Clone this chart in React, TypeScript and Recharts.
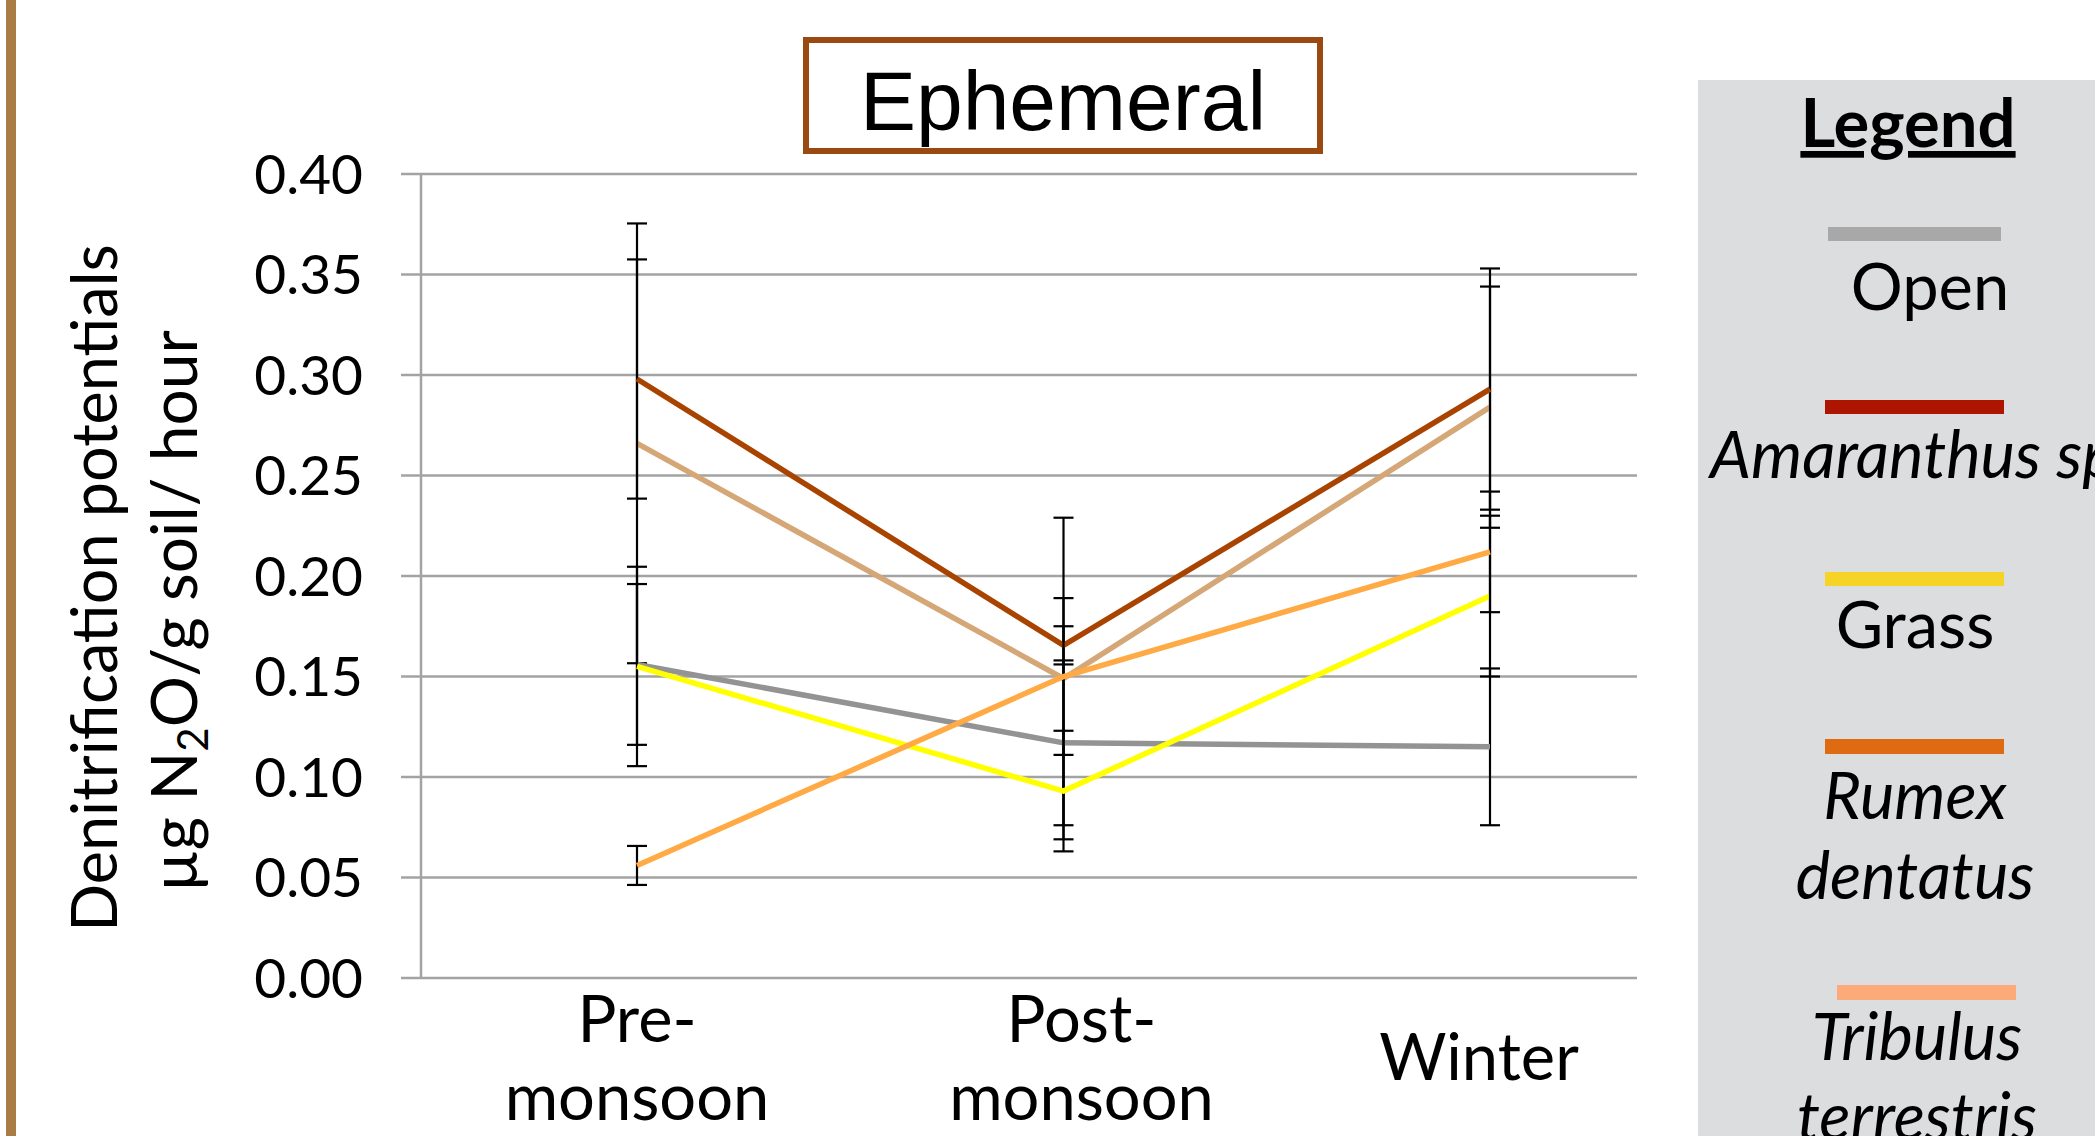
import React from 'react';
import { LineChart, Line, XAxis, YAxis, CartesianGrid, ErrorBar } from 'recharts';

const seasons = ['Pre-monsoon', 'Post-monsoon', 'Winter'];
const openVals = [0.156, 0.117, 0.115];
const openErr = [0.040, 0.041, 0.039];
const amaranthusVals = [0.298, 0.1655, 0.293];
const amaranthusErr = [0.0595, 0.0095, 0.060];
const grassVals = [0.155, 0.093, 0.190];
const grassErr = [0.0496, 0.030, 0.040];
const rumexVals = [0.056, 0.150, 0.212];
const rumexErr = [0.0097, 0.039, 0.030];
const tribulusVals = [0.266, 0.149, 0.284];
const tribulusErr = [0.1094, 0.080, 0.060];
const yTicks = [0, 0.05, 0.1, 0.15, 0.2, 0.25, 0.3, 0.35, 0.4];
const labelNudge: Record<string, number> = { 'Pre-monsoon': 0, 'Post-monsoon': 18, 'Winter': -11 };

const data = seasons.map((s, i) => ({
  season: s,
  open: openVals[i], openE: openErr[i],
  amaranthus: amaranthusVals[i], amaranthusE: amaranthusErr[i],
  grass: grassVals[i], grassE: grassErr[i],
  rumex: rumexVals[i], rumexE: rumexErr[i],
  tribulus: tribulusVals[i], tribulusE: tribulusErr[i],
}));

const series = [
  { key: 'tribulus', color: '#D5A777' },
  { key: 'amaranthus', color: '#A84400' },
  { key: 'open', color: '#939393' },
  { key: 'grass', color: '#FFFF00' },
  { key: 'rumex', color: '#FFAA44' },
];

const GILL = 'Lato, "Open Sans", sans-serif';

const XTick = (props: any) => {
  const { x, y, payload } = props;
  const v: string = payload.value;
  const cx = x + (labelNudge[v] || 0);
  const idx = v.indexOf('-');
  if (idx >= 0) {
    return (
      <g>
        <text x={cx} y={y + 64} textAnchor="middle" fontSize={65} fontFamily={GILL} fill="#000">{v.slice(0, idx + 1)}</text>
        <text x={cx} y={y + 142} textAnchor="middle" fontSize={65} fontFamily={GILL} fill="#000">{v.slice(idx + 1)}</text>
      </g>
    );
  }
  return (
    <text x={cx} y={y + 102} textAnchor="middle" fontSize={65} fontFamily={GILL} fill="#000">{v}</text>
  );
};

const legendItems = [
  { color: '#A8A8A8', bar: [1828, 227, 173, 14], lines: ['Open'], italic: false, cx: 1930, y: 310 },
  { color: '#AE1500', bar: [1825, 400, 179, 14], lines: ['Amaranthus sp.'], italic: true, cx: 1710, y: 478, anchorStart: true },
  { color: '#F5D327', bar: [1825, 572, 179, 14], lines: ['Grass'], italic: false, cx: 1915, y: 648 },
  { color: '#DE6A12', bar: [1825, 739, 179, 15], lines: ['Rumex', 'dentatus'], italic: true, cx: 1915, y: 819 },
  { color: '#FCAA7A', bar: [1837, 985, 179, 15], lines: ['Tribulus', 'terrestris'], italic: true, cx: 1917, y: 1060 },
];

export default function App() {
  return (
    <div style={{ position: 'absolute', left: 0, top: 0, width: 2095, height: 1136, background: '#fff', overflow: 'hidden' }}>
      <LineChart width={2095} height={1136} data={data} margin={{ top: 174, right: 458, bottom: 58, left: 301 }}>
        <CartesianGrid horizontal vertical={false} stroke="#A3A3A3" strokeWidth={2.5} />
        <XAxis
          dataKey="season"
          type="category"
          padding={{ left: 216, right: 147 }}
          axisLine={false}
          tickLine={false}
          tickSize={0}
          tickMargin={0}
          height={100}
          tick={<XTick />}
          interval={0}
        />
        <YAxis
          type="number"
          domain={[0, 0.4]}
          ticks={yTicks}
          width={120}
          tickFormatter={(v: number) => v.toFixed(2)}
          axisLine={{ stroke: '#A3A3A3', strokeWidth: 2.5 }}
          tickLine={{ stroke: '#A3A3A3', strokeWidth: 2.5 }}
          tickSize={20}
          tickMargin={38}
          tick={{ fontSize: 55, fontFamily: GILL, fill: '#000' }}
          interval={0}
        />
        {series.map((s) => (
          <Line
            key={s.key}
            dataKey={s.key}
            stroke={s.color}
            strokeWidth={5.5}
            dot={false}
            activeDot={false}
            isAnimationActive={false}
            type="linear"
          >
            <ErrorBar dataKey={s.key + 'E'} width={10} strokeWidth={2.2} stroke="#000" direction="y" />
          </Line>
        ))}
      </LineChart>
      <svg width={2095} height={1136} style={{ position: 'absolute', left: 0, top: 0, pointerEvents: 'none' }}>
        <rect x={6} y={0} width={10} height={1136} fill="#A97B45" />
        <rect x={806} y={40} width={514} height={111} fill="#fff" stroke="#9A4A10" strokeWidth={6} />
        <text x={1063} y={130} textAnchor="middle" fontSize={84} fontFamily='"Liberation Sans", Arial, sans-serif' fill="#000">Ephemeral</text>
        <text transform="translate(117,588) rotate(-90)" textAnchor="middle" fontSize={63} fontFamily={GILL} fill="#000">Denitrification potentials</text>
        <text transform="translate(197,611) rotate(-90)" textAnchor="middle" fontSize={64} fontFamily={GILL} fill="#000">
          µg N<tspan fontSize={42} dy={11}>2</tspan><tspan dy={-11}>O/g soil/ hour</tspan>
        </text>
        <rect x={1698} y={80} width={397} height={1056} fill="#DCDDDF" />
        <text x={1908} y={147} textAnchor="middle" fontSize={67} fontWeight="bold" fontFamily={GILL} fill="#000" textDecoration="underline">Legend</text>
        {legendItems.map((it, i) => (
          <g key={i}>
            <rect x={it.bar[0]} y={it.bar[1]} width={it.bar[2]} height={it.bar[3]} fill={it.color} />
            {it.lines.map((ln, j) => (
              <text
                key={j}
                x={it.cx}
                y={it.y + j * 80}
                textAnchor={it.anchorStart ? 'start' : 'middle'}
                fontSize={65}
                fontStyle={it.italic ? 'italic' : 'normal'}
                fontFamily={GILL}
                fill="#000"
              >
                {ln}
              </text>
            ))}
          </g>
        ))}
      </svg>
    </div>
  );
}
